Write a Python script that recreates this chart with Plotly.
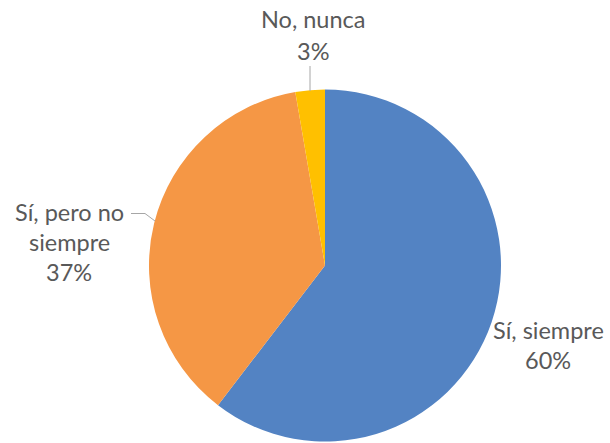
import plotly.graph_objects as go

W, H = 610, 443

categories = ["Sí, siempre", "Sí, pero no siempre", "No, nunca"]
values = [60.4, 36.9, 2.7]
pct_labels = ["60%", "37%", "3%"]
colors = ["#5383C3", "#F59745", "#FFC000"]

# label layout (pixel positions in the reference screenshot)
label_lines = {
    "Sí, siempre": [("Sí, siempre", 548, 330), ("60%", 548, 360)],
    "Sí, pero no siempre": [("Sí, pero no", 69, 212), ("siempre", 69, 242), ("37%", 69, 272)],
    "No, nunca": [("No, nunca", 313, 19), ("3%", 313, 51)],
}

cx, cy, r = 325, 265.5, 176

def px(x):
    return x / W

def py(y):
    return 1 - y / H

fig = go.Figure(go.Pie(
    labels=categories,
    values=values,
    sort=False,
    direction="clockwise",
    rotation=0,
    marker=dict(colors=colors, line=dict(width=0)),
    textinfo="none",
    hoverinfo="label+percent",
    showlegend=False,
    domain=dict(x=[px(cx - r), px(cx + r)], y=[py(cy + r), py(cy - r)]),
))

ann = []
for cat in categories:
    for txt, x, y in label_lines[cat]:
        ann.append(dict(text=txt, x=px(x), y=py(y), xref="paper", yref="paper",
                        showarrow=False, xanchor="center", yanchor="middle",
                        font=dict(family="Lato", size=23.5, color="#595959")))

shapes = [
    dict(type="line", xref="paper", yref="paper", x0=px(310), y0=py(66), x1=px(310), y1=py(91),
         line=dict(color="#A6A6A6", width=1)),
    dict(type="path", xref="paper", yref="paper",
         path=f"M {px(131)},{py(213.5)} L {px(145)},{py(213.5)} L {px(155)},{py(221)}",
         line=dict(color="#A6A6A6", width=1)),
]

fig.update_layout(
    width=W, height=H,
    margin=dict(l=0, r=0, t=0, b=0),
    paper_bgcolor="white",
    plot_bgcolor="white",
    annotations=ann,
    shapes=shapes,
)

fig.write_html(
    "out.html",
    config={"displayModeBar": False},
    post_script="document.body.style.margin='0';document.body.style.overflow='hidden';",
)
